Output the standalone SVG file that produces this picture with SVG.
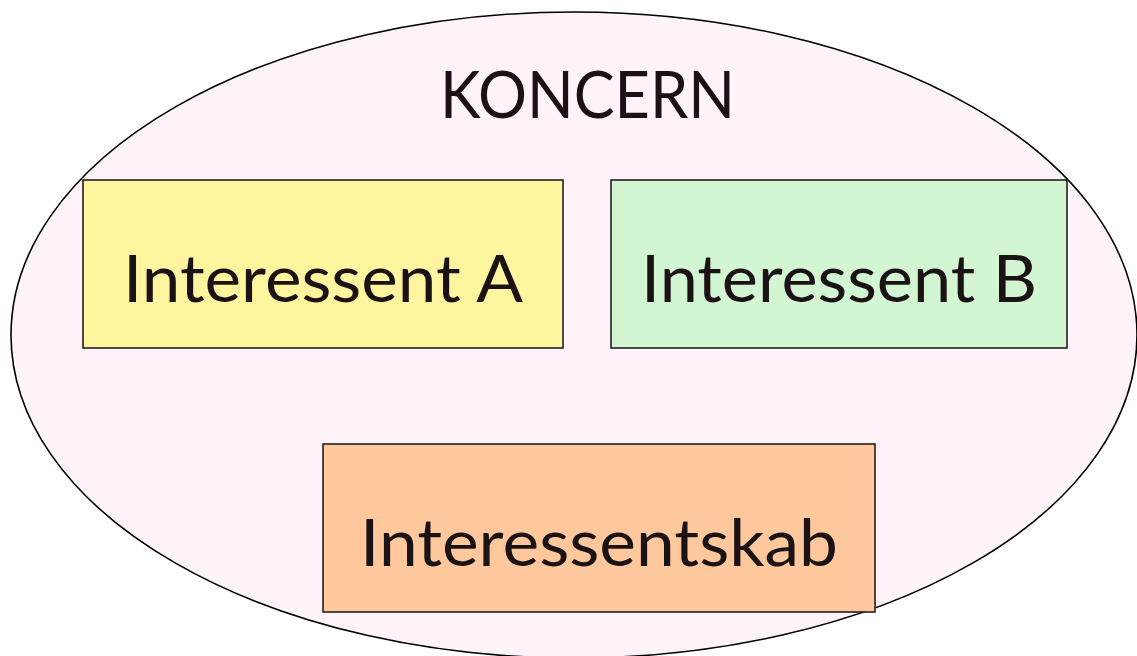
<svg xmlns="http://www.w3.org/2000/svg" width="1137" height="656" viewBox="0 0 1137 656">
<style>
.box{stroke:#231f20;stroke-width:1.6}
.t{font-family:Lato,"Open Sans","Liberation Sans",sans-serif;font-size:66px;fill:#1a1214}
</style>
<rect width="1137" height="656" fill="#ffffff"/>
<g id="koncern">
<ellipse cx="574" cy="335" rx="563" ry="323" fill="#fff3fa" stroke="#000" stroke-width="1.6"/>
<text class="t" x="440" y="118" textLength="295" lengthAdjust="spacingAndGlyphs">KONCERN</text>
</g>
<g id="interessent-a">
<rect class="box" x="83" y="180" width="480" height="168" fill="#fff59f"/>
<text class="t" x="123" y="302" textLength="400" lengthAdjust="spacingAndGlyphs">Interessent A</text>
</g>
<g id="interessent-b">
<rect class="box" x="611" y="180" width="456" height="168" fill="#d2f5d2"/>
<text class="t" x="641" y="302" textLength="396" lengthAdjust="spacingAndGlyphs">Interessent B</text>
</g>
<g id="interessentskab">
<rect class="box" x="323" y="444" width="552" height="168" fill="#ffc89c"/>
<text class="t" x="360" y="566" textLength="478" lengthAdjust="spacingAndGlyphs">Interessentskab</text>
</g>
<g id="connectors"></g>
</svg>
